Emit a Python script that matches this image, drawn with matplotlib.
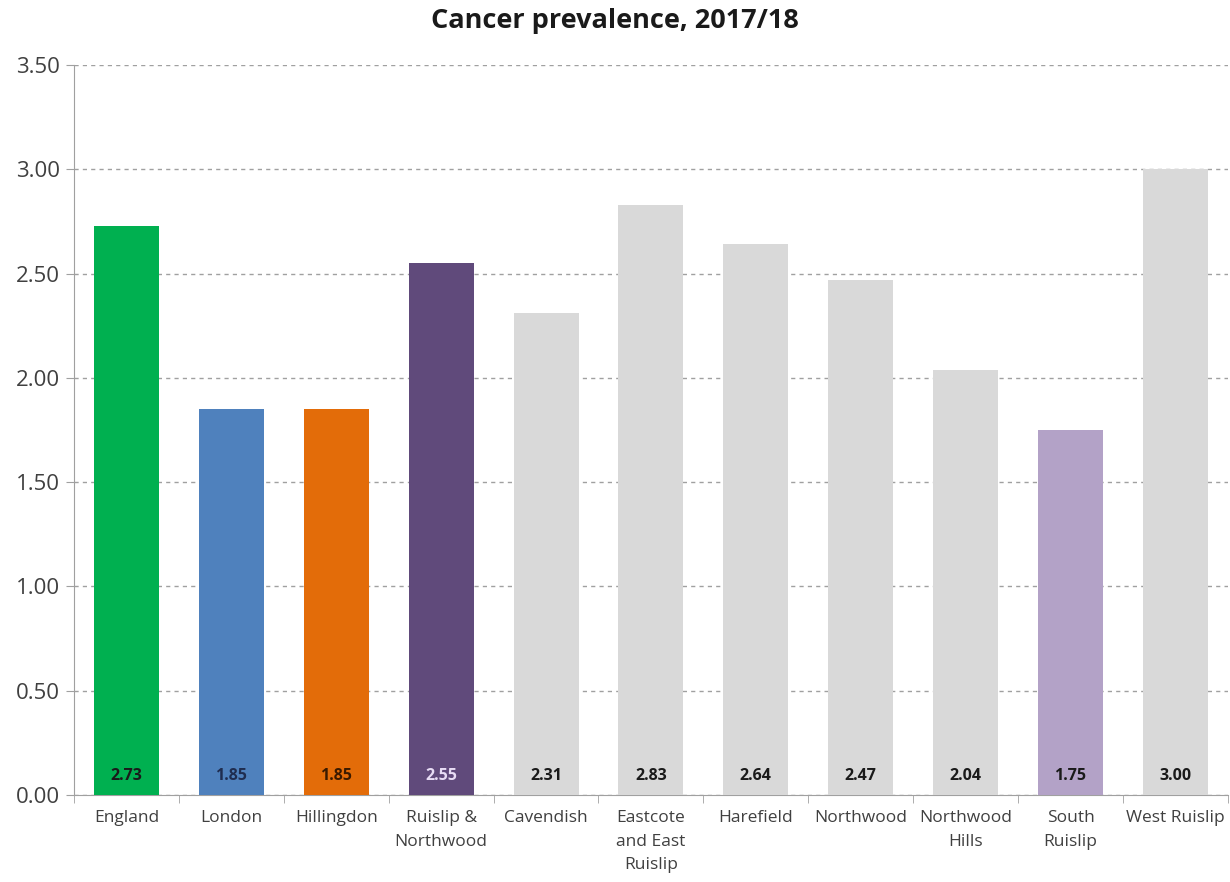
import matplotlib
matplotlib.use('Agg')
import matplotlib.pyplot as plt
import numpy as np

areas = ['England', 'London', 'Hillingdon', 'Ruislip &\nNorthwood', 'Cavendish',
         'Eastcote\nand East\nRuislip', 'Harefield', 'Northwood', 'Northwood\nHills',
         'South\nRuislip', 'West Ruislip']
values = [2.73, 1.85, 1.85, 2.55, 2.31, 2.83, 2.64, 2.47, 2.04, 1.75, 3.00]
bar_colors = ['#00B050', '#4F81BD', '#E36C09', '#604A7B', '#D9D9D9', '#D9D9D9',
              '#D9D9D9', '#D9D9D9', '#D9D9D9', '#B3A2C7', '#D9D9D9']
label_colors = ['#1a1a1a', '#1F2D50', '#3a1a00', '#E8DDF5', '#1a1a1a', '#1a1a1a',
                '#1a1a1a', '#1a1a1a', '#1a1a1a', '#1a1a1a', '#1a1a1a']
yticks = [0, 0.5, 1.0, 1.5, 2.0, 2.5, 3.0, 3.5]

plt.rcParams['font.family'] = ['Open Sans', 'DejaVu Sans']

fig = plt.figure(figsize=(12.3, 8.82), dpi=100)
ax = fig.add_axes([0.0602, 0.0986, 0.938, 0.8277])

x = np.arange(len(areas))
ax.bar(x, values, width=0.62, color=bar_colors, zorder=3)
for xi, v, c in zip(x, values, label_colors):
    ax.text(xi, 0.09, f'{v:.2f}', ha='center', va='center', fontsize=11.5,
            fontweight='bold', color=c, zorder=4)

ax.set_xlim(-0.5, len(areas) - 0.5)
ax.set_ylim(0, 3.5)
ax.set_yticks(yticks)
ax.set_yticklabels([f'{t:.2f}' for t in yticks], fontsize=16, color='#404040')
ax.yaxis.grid(True, linestyle=(0, (3, 3)), color='#A0A0A0', linewidth=1, zorder=0)

ax.set_xticks(x)
ax.set_xticklabels(areas, fontsize=12.5, color='#404040', linespacing=1.6, va='top')
ax.set_xticks(np.arange(len(areas) + 1) - 0.5, minor=True)
ax.tick_params(axis='x', which='major', length=0, pad=11)
ax.tick_params(axis='x', which='minor', length=6, color='#A0A0A0', direction='out')
ax.tick_params(axis='y', length=6, color='#A0A0A0', pad=4)

for side in ['top', 'right']:
    ax.spines[side].set_visible(False)
ax.spines['left'].set_color('#A0A0A0')
ax.spines['bottom'].set_color('#A0A0A0')

fig.text(0.5, 0.976, 'Cancer prevalence, 2017/18', ha='center', va='center',
         fontsize=19.5, fontweight='bold', color='#1a1a1a')

fig.savefig('out.png', dpi=100)
